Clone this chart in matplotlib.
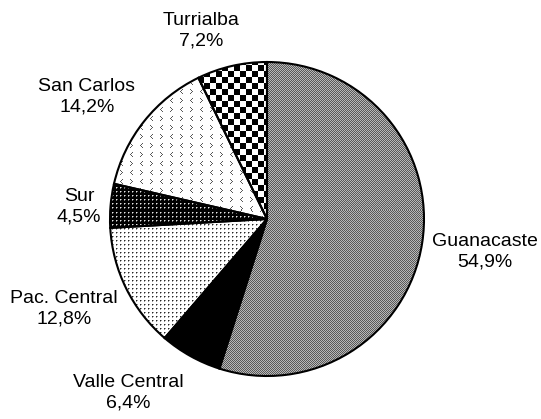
import numpy as np
import matplotlib.pyplot as plt

regions = ["Guanacaste", "Valle Central", "Pac. Central", "Sur", "San Carlos", "Turrialba"]
shares = [54.9, 6.4, 12.8, 4.5, 14.2, 7.2]
pct_labels = ["54,9%", "6,4%", "12,8%", "4,5%", "14,2%", "7,2%"]

# label centres in pixels (x, y from top)
label_pos = [(485, 252), (128, 393), (64, 309), (79, 207), (87, 97), (201, 31)]

W, H = 541, 419
plt.rcParams['font.family'] = ['Liberation Sans', 'DejaVu Sans']

yy, xx = np.mgrid[0:H, 0:W]


def pat_guan():
    a = np.where((xx + yy) % 2 == 0, 0.35, 0.72)
    return a


def pat_valle():
    return np.zeros((H, W))


def pat_pac():
    a = np.ones((H, W))
    a[(xx % 4 == 0) & (yy % 4 == 0)] = 0.15
    a[(xx % 4 == 1) & (yy % 4 == 0)] = 0.6
    a[(xx % 4 == 0) & (yy % 4 == 1)] = 0.6
    return a


def pat_sur():
    a = np.zeros((H, W))
    a[(xx % 4 == 0) & (yy % 4 == 0)] = 0.9
    a[(xx % 4 == 1) & (yy % 4 == 0)] = 0.45
    a[(xx % 4 == 0) & (yy % 4 == 1)] = 0.45
    return a


def pat_sancarlos():
    tile = np.ones((18, 20))
    lt = [(0, 2), (1, 1), (2, 0), (3, 1), (4, 2)]
    gt = [(0, 0), (1, 1), (2, 2), (3, 1), (4, 0)]
    for r, c in lt:
        tile[r, c] = 0.35
        tile[9 + r, 10 + c] = 0.35
    for r, c in gt:
        tile[r, 10 + c] = 0.35
        tile[9 + r, c] = 0.35
    return np.tile(tile, (H // 18 + 1, W // 20 + 1))[:H, :W]


def pat_turri():
    return np.where(((xx // 6) + (yy // 6)) % 2 == 0, 0.0, 1.0)


patterns = [pat_guan(), pat_valle(), pat_pac(), pat_sur(), pat_sancarlos(), pat_turri()]

fig = plt.figure(figsize=(5.41, 4.19), dpi=100)
ax = fig.add_axes([0, 0, 1, 1])

wedges, _ = ax.pie(shares, startangle=90, counterclock=False,
                   center=(267, H - 219), radius=157, frame=True,
                   wedgeprops=dict(facecolor='none', edgecolor='black', linewidth=1.5, zorder=3))
ax.set_xlim(0, W)
ax.set_ylim(0, H)
ax.set_aspect('equal')
ax.axis('off')

for w, p in zip(wedges, patterns):
    im = ax.imshow(p, cmap='gray', vmin=0, vmax=1, extent=(0, W, 0, H),
                   origin='upper', interpolation='nearest', zorder=1)
    im.set_clip_path(w)

for name, pct, (px, py) in zip(regions, pct_labels, label_pos):
    ax.text(px, H - py, name + "\n" + pct, ha='center', va='center',
            fontsize=14, linespacing=1.25)

fig.savefig("out.png", dpi=100)
